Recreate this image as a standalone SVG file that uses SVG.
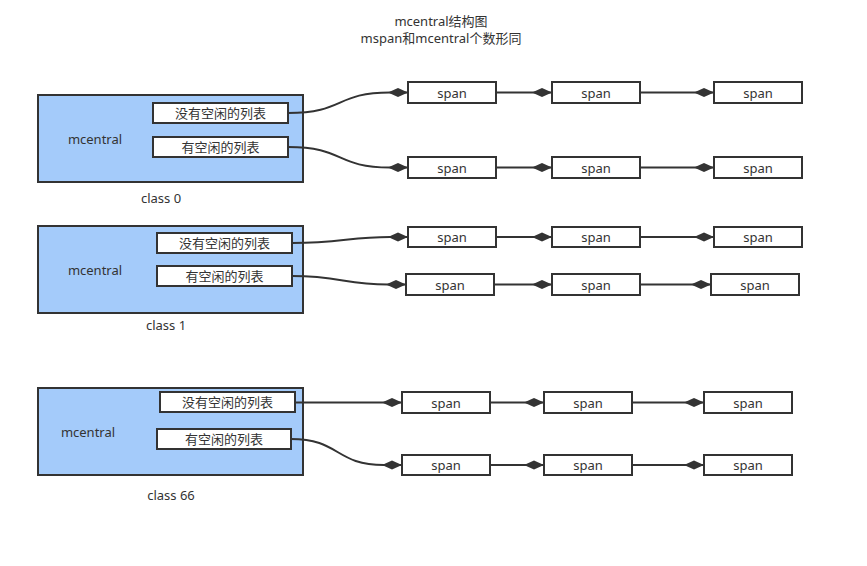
<svg xmlns="http://www.w3.org/2000/svg" width="867" height="566" viewBox="0 0 867 566">
  <style>
    text { font-family: "Noto Sans", "Noto Sans CJK SC", sans-serif; font-size: 13px; fill: #333; text-anchor: middle; dominant-baseline: central; }
    .central { fill: #a4cbfa; stroke: #333; stroke-width: 2; }
    .box { fill: #fff; stroke: #333; stroke-width: 2; }
    .link { fill: none; stroke: #333; stroke-width: 2; marker-end: url(#diamond); }
  </style>
  <defs>
    <marker id="diamond" markerUnits="userSpaceOnUse" markerWidth="22" markerHeight="12" viewBox="0 -6 22 12" refX="20" refY="0" orient="auto">
      <path d="M0,0 L10,-4.5 L20,0 L10,4.5 Z" fill="#333"/>
    </marker>
  </defs>
  <rect width="867" height="566" fill="#fff"/>

  <g id="title">
    <text x="441" y="21">mcentral结构图</text>
    <text x="441" y="38">mspan和mcentral个数形同</text>
  </g>

  <!-- class 0 -->
  <g id="class0">
    <rect class="central" x="38" y="95" width="265" height="87"/>
    <text x="95" y="139">mcentral</text>
    <text x="161" y="198">class 0</text>
  </g>
  <g id="class0-nonempty"><rect class="box" x="153" y="103" width="135" height="20"/><text x="220.5" y="113">没有空闲的列表</text></g>
  <g id="class0-empty"><rect class="box" x="153" y="137" width="135" height="20"/><text x="220.5" y="147">有空闲的列表</text></g>
  <g id="c0a1"><rect class="box" x="408" y="82" width="88" height="21"/><text x="452" y="92.5">span</text></g>
  <g id="c0a2"><rect class="box" x="552" y="82" width="88" height="21"/><text x="596" y="92.5">span</text></g>
  <g id="c0a3"><rect class="box" x="714" y="82" width="88" height="21"/><text x="758" y="92.5">span</text></g>
  <g id="c0b1"><rect class="box" x="408" y="157" width="88" height="21"/><text x="452" y="167.5">span</text></g>
  <g id="c0b2"><rect class="box" x="552" y="157" width="88" height="21"/><text x="596" y="167.5">span</text></g>
  <g id="c0b3"><rect class="box" x="714" y="157" width="88" height="21"/><text x="758" y="167.5">span</text></g>

  <!-- class 1 -->
  <g id="class1">
    <rect class="central" x="38" y="226" width="265" height="87"/>
    <text x="95" y="270">mcentral</text>
    <text x="166" y="325">class 1</text>
  </g>
  <g id="class1-nonempty"><rect class="box" x="157" y="233" width="135" height="20"/><text x="224.5" y="243">没有空闲的列表</text></g>
  <g id="class1-empty"><rect class="box" x="157" y="266" width="135" height="20"/><text x="224.5" y="276">有空闲的列表</text></g>
  <g id="c1a1"><rect class="box" x="408" y="227" width="88" height="20"/><text x="452" y="237">span</text></g>
  <g id="c1a2"><rect class="box" x="552" y="227" width="88" height="20"/><text x="596" y="237">span</text></g>
  <g id="c1a3"><rect class="box" x="714" y="227" width="88" height="20"/><text x="758" y="237">span</text></g>
  <g id="c1b1"><rect class="box" x="406" y="274" width="88" height="21"/><text x="450" y="284.5">span</text></g>
  <g id="c1b2"><rect class="box" x="552" y="274" width="88" height="21"/><text x="596" y="284.5">span</text></g>
  <g id="c1b3"><rect class="box" x="711" y="274" width="88" height="21"/><text x="755" y="284.5">span</text></g>

  <!-- class 66 -->
  <g id="class66">
    <rect class="central" x="38" y="388" width="265" height="87"/>
    <text x="88" y="432">mcentral</text>
    <text x="171" y="495">class 66</text>
  </g>
  <g id="class66-nonempty"><rect class="box" x="160" y="392" width="135" height="20"/><text x="227.5" y="402">没有空闲的列表</text></g>
  <g id="class66-empty"><rect class="box" x="157" y="429" width="134" height="20"/><text x="224" y="439">有空闲的列表</text></g>
  <g id="c66a1"><rect class="box" x="402" y="392" width="88" height="21"/><text x="446" y="402.5">span</text></g>
  <g id="c66a2"><rect class="box" x="544" y="392" width="88" height="21"/><text x="588" y="402.5">span</text></g>
  <g id="c66a3"><rect class="box" x="704" y="392" width="88" height="21"/><text x="748" y="402.5">span</text></g>
  <g id="c66b1"><rect class="box" x="402" y="455" width="88" height="20"/><text x="446" y="465">span</text></g>
  <g id="c66b2"><rect class="box" x="544" y="455" width="88" height="20"/><text x="588" y="465">span</text></g>
  <g id="c66b3"><rect class="box" x="704" y="455" width="88" height="20"/><text x="748" y="465">span</text></g>

  <g id="connectors">
    <path class="link" d="M288,113 C345,113 335,92.5 390,92.5 L408,92.5"/>
    <path class="link" d="M288,147 C345,147 335,167.5 390,167.5 L408,167.5"/>
    <path class="link" d="M496,92.5 L552,92.5"/>
    <path class="link" d="M640,92.5 L714,92.5"/>
    <path class="link" d="M496,167.5 L552,167.5"/>
    <path class="link" d="M640,167.5 L714,167.5"/>

    <path class="link" d="M292,243 C340,243 350,237 390,237 L408,237"/>
    <path class="link" d="M292,276 C340,276 345,284.5 388,284.5 L406,284.5"/>
    <path class="link" d="M496,237 L552,237"/>
    <path class="link" d="M640,237 L714,237"/>
    <path class="link" d="M494,284.5 L552,284.5"/>
    <path class="link" d="M640,284.5 L711,284.5"/>

    <path class="link" d="M295,402.5 L402,402.5"/>
    <path class="link" d="M291,439 C340,439 335,465 384,465 L402,465"/>
    <path class="link" d="M490,402.5 L544,402.5"/>
    <path class="link" d="M632,402.5 L704,402.5"/>
    <path class="link" d="M490,465 L544,465"/>
    <path class="link" d="M632,465 L704,465"/>
  </g>
</svg>
